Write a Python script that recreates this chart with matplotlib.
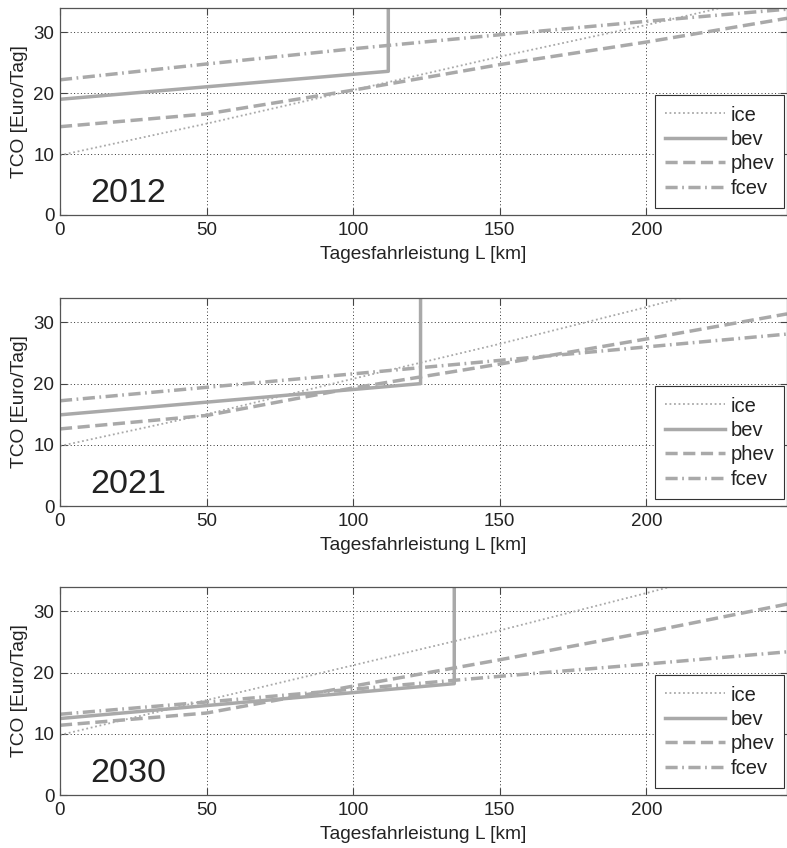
import matplotlib
matplotlib.use('Agg')
import matplotlib.pyplot as plt

plt.rcParams['font.family'] = ['Liberation Sans', 'DejaVu Sans']

# Daten
years = ['2012', '2021', '2030']
km = [0, 50, 100, 150, 200, 248]

ice = {'2012': [9.8, 15.0, 20.5, 26.0, 31.2, 36.5],
       '2021': [9.8, 15.0, 20.8, 26.5, 32.5, 38.5],
       '2030': [9.8, 15.5, 21.2, 26.9, 33.0, 39.0]}
phev = {'2012': [14.5, 16.6, 20.5, 24.7, 28.4, 32.3],
        '2021': [12.6, 14.8, 19.3, 23.2, 27.3, 31.4],
        '2030': [11.4, 13.4, 17.8, 22.1, 26.6, 31.2]}
fcev = {'2012': [22.2, 24.8, 27.3, 29.6, 31.8, 33.8],
        '2021': [17.2, 19.4, 21.6, 23.8, 26.0, 28.1],
        '2030': [13.2, 15.2, 17.3, 19.4, 21.4, 23.4]}
# bev: Reichweite, Kosten bei 0 km und an der Reichweitengrenze
bev_range = {'2012': 112, '2021': 123, '2030': 134.5}
bev_tco = {'2012': [19.0, 23.6], '2021': [14.9, 20.0], '2030': [12.5, 18.2]}

col = '#a9a9a9'
txt = '#222222'

fig = plt.figure(figsize=(7.87, 8.48), dpi=100)
# Positionen der drei Achsen (links, unten, breite, hoehe)
pos = [[0.0762, 0.7465, 0.9238, 0.2441],
       [0.0762, 0.4033, 0.9238, 0.2453],
       [0.0762, 0.0625, 0.9238, 0.2453]]

for i, yr in enumerate(years):
    ax = fig.add_axes(pos[i])
    ax.plot(km, ice[yr], ls=(0, (1, 1.5)), color=col, lw=1.3, label='ice')
    r = bev_range[yr]
    ax.plot([0, r, r], [bev_tco[yr][0], bev_tco[yr][1], 40], '-', color=col, lw=2.5, label='bev')
    ax.plot(km, phev[yr], ls=(0, (3.5, 1.6)), color=col, lw=2.5, label='phev')
    ax.plot(km, fcev[yr], ls=(0, (3.5, 1.3, 0.5, 1.3)), color=col, lw=2.5, label='fcev')

    ax.set_xlim(0, 248)
    ax.set_ylim(0, 34)
    ax.set_xticks([0, 50, 100, 150, 200])
    ax.set_yticks([0, 10, 20, 30])
    ax.grid(True, ls=(0, (1, 2.5)), color='#333333', lw=0.7)
    ax.tick_params(direction='in', length=5, labelsize=13.5, colors='#444444',
                   labelcolor=txt, top=True, right=True)
    ax.tick_params(axis='x', pad=5)
    ax.tick_params(axis='y', pad=4)
    for s in ax.spines.values():
        s.set_color('#555555')
        s.set_linewidth(0.9)

    ax.set_xlabel('Tagesfahrleistung L [km]', fontsize=13.8, color=txt, labelpad=5)
    ax.set_ylabel('TCO [Euro/Tag]', fontsize=13.8, color=txt, labelpad=4)
    ax.text(0.041, 0.063, yr, transform=ax.transAxes, fontsize=24.5, color=txt, va='baseline')

    leg = ax.legend(loc='lower right', bbox_to_anchor=(0.996, 0.034), fontsize=14.5,
                    handlelength=3.0, handletextpad=0.25, labelspacing=0.27,
                    borderpad=0.5, borderaxespad=0, fancybox=False, framealpha=1)
    leg.get_frame().set_edgecolor('#333333')
    leg.get_frame().set_linewidth(0.8)
    for t in leg.get_texts():
        t.set_color(txt)

fig.savefig('out.png', dpi=100)
